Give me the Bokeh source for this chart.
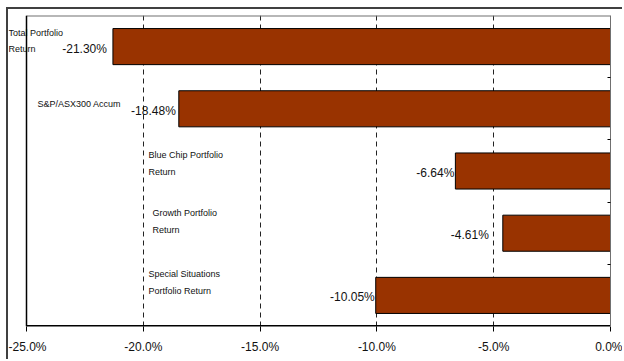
from bokeh.plotting import figure
from bokeh.models import (ColumnDataSource, FixedTicker, LinearAxis, CustomJSTickFormatter, Range1d, Span)
from bokeh.core.properties import value
from bokeh.embed import file_html
from bokeh.resources import INLINE

# ---- data ----
categories = ["Total Portfolio Return", "S&P/ASX300 Accum", "Blue Chip Portfolio Return",
              "Growth Portfolio Return", "Special Situations Portfolio Return"]
label_lines = [["Total Portfolio", "Return"], ["S&P/ASX300 Accum"], ["Blue Chip Portfolio", "Return"],
               ["Growth Portfolio", "Return"], ["Special Situations", "Portfolio Return"]]
returns = [-21.30, -18.48, -6.64, -4.61, -10.05]
x_ticks = [-25, -20, -15, -10, -5, 0]
x_min, x_max = -25, 0

# ---- layout constants ----
n = len(categories)
pad_px = 18            # blank space left of the value axis, inside the canvas
axis_px = 584          # pixel length of the value axis
x_start = x_min - pad_px * (x_max - x_min) / axis_px
label_x = [-25.77, -24.53, -19.78, -19.61, -19.78]               # where each category label starts
label_line_dy = [[-14, 2], [-5], [-16, 1], [-20, -3], [-21, -4]]  # px offsets of each text line
value_dx = [-6, -3, -1, -14, -1]                                 # px gap of value labels

FONT = "Liberation Sans"
BAR = "#993300"

p = figure(width=616, height=352, output_backend="svg", toolbar_location=None,
           x_range=Range1d(x_start, x_max), y_range=Range1d(0, n),
           min_border_left=0, min_border_right=14, min_border_top=6, min_border_bottom=35)
p.margin = (7, 0, 0, 6)
p.styles = {"border-top": "2px solid #404040", "border-left": "2px solid #404040"}
p.background_fill_color = "white"
p.border_fill_color = "white"
p.outline_line_color = None

# grid
p.ygrid.visible = False
p.xgrid.ticker = FixedTicker(ticks=[-20, -15, -10, -5])
p.xgrid.grid_line_color = "#222222"
p.xgrid.grid_line_dash = "5 4"
p.xgrid.grid_line_width = 1

# plot-area edges: top (gray), left and bottom (black)
p.segment(x0=[x_min], y0=[n], x1=[x_max], y1=[n], line_color="#707070", line_width=2)
p.segment(x0=[x_min], y0=[0], x1=[x_max], y1=[0], line_color="#000000", line_width=3)
p.add_layout(Span(location=x_min, dimension="height", line_color="#000000", line_width=1.5))

ys = [n - i - 0.5 for i in range(n)]
src = ColumnDataSource(dict(y=ys, ret=returns, zero=[0] * n,
                            lab=["{:.2f}%".format(v) for v in returns], dx=value_dx))
p.hbar(y="y", left="ret", right="zero", height=0.58, source=src,
       fill_color=BAR, line_color="#000000", line_width=1)

p.text(x="ret", y="y", text="lab", source=src, x_offset="dx", y_offset=2,
       text_align="right", text_baseline="middle", text_font=value(FONT),
       text_font_size="12px", text_color="#111111")

lx, ly, lt, ldy = [], [], [], []
for i, lines in enumerate(label_lines):
    for j, t in enumerate(lines):
        lx.append(label_x[i]); ly.append(ys[i]); lt.append(t); ldy.append(label_line_dy[i][j])
p.text(x=lx, y=ly, text=lt, y_offset=ldy, text_align="left", text_baseline="middle",
       text_font=value(FONT), text_font_size="9px", text_color="#111111")

# bottom axis (line drawn above as a segment)
xa = p.xaxis[0]
xa.ticker = FixedTicker(ticks=x_ticks)
xa.formatter = CustomJSTickFormatter(code="return tick.toFixed(1) + '%';")
xa.axis_line_color = None
xa.major_tick_line_color = "#000000"
xa.major_tick_out = 5
xa.major_tick_in = 0
xa.minor_tick_line_color = None
xa.major_label_text_font = FONT
xa.major_label_text_font_size = "12px"
xa.major_label_text_color = "#111111"
xa.major_label_standoff = 8

p.yaxis.visible = False

# right axis: category boundary ticks
ra = LinearAxis(ticker=FixedTicker(ticks=[1, 2, 3, 4]))
ra.formatter = CustomJSTickFormatter(code="return '';")
ra.axis_line_color = "#707070"
ra.major_tick_line_color = "#000000"
ra.major_tick_in = 3
ra.major_tick_out = 0
ra.minor_tick_line_color = None
p.add_layout(ra, "right")

open("out.html", "w").write(file_html(p, INLINE))
